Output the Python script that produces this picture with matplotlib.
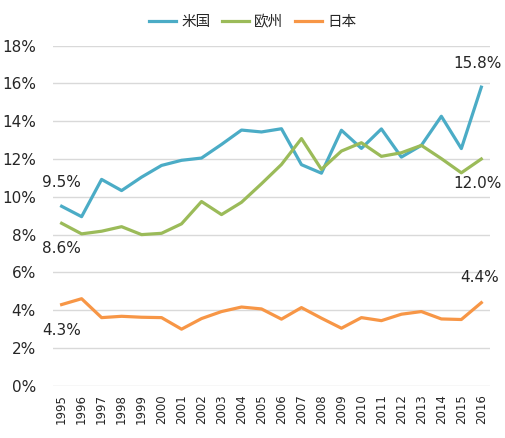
import matplotlib
matplotlib.use("Agg")
import matplotlib.pyplot as plt

plt.rcParams['font.family'] = ['DejaVu Sans', 'Noto Sans CJK SC']

years = [str(y) for y in range(1995, 2017)]
us = [9.5, 8.95, 10.92, 10.33, 11.04, 11.66, 11.93, 12.05, 12.77, 13.53, 13.43,
      13.6, 11.7, 11.25, 13.52, 12.56, 13.59, 12.1, 12.72, 14.26, 12.55, 15.8]
eu = [8.6, 8.04, 8.18, 8.42, 8.0, 8.07, 8.57, 9.75, 9.06, 9.71, 10.69,
      11.71, 13.08, 11.45, 12.42, 12.86, 12.14, 12.33, 12.72, 12.02, 11.27, 12.0]
jp = [4.3, 4.61, 3.61, 3.68, 3.63, 3.61, 3.0, 3.56, 3.93, 4.17, 4.07,
      3.53, 4.14, 3.58, 3.05, 3.61, 3.45, 3.79, 3.93, 3.54, 3.51, 4.4]
series_names = ['米国', '欧州', '日本']
colors = ['#4BACC6', '#9BBB59', '#F79646']
yticks = [0, 2, 4, 6, 8, 10, 12, 14, 16, 18]

fig = plt.figure(figsize=(5.06, 4.38), dpi=100)
ax = fig.add_axes([0.104, 0.119, 0.865, 0.777])

x = list(range(len(years)))
for vals, name, c in zip([us, eu, jp], series_names, colors):
    ax.plot(x, vals, color=c, lw=2.3, label=name, solid_joinstyle='round')

ax.set_xlim(-0.45, len(years) - 1 + 0.45)
ax.set_ylim(0, 18)
ax.set_yticks(yticks)
ax.set_yticklabels([f"{v}%" for v in yticks])
ax.set_xticks(x)
ax.set_xticklabels(years, rotation=90)
ax.tick_params(axis='y', length=0, pad=12, labelsize=11, labelcolor='#262626')
ax.tick_params(axis='x', length=0, pad=6, labelsize=8.5, labelcolor='#262626')
ax.grid(axis='y', color='#D9D9D9', lw=1)
ax.set_axisbelow(True)
for s in ax.spines.values():
    s.set_visible(False)

txt = dict(textcoords='offset points', ha='center', va='center',
           fontsize=11, color='#262626')
ax.annotate(f"{us[0]:.1f}%", (0, us[0]), xytext=(0, 17), **txt)
ax.annotate(f"{eu[0]:.1f}%", (0, eu[0]), xytext=(0, -18), **txt)
ax.annotate(f"{jp[0]:.1f}%", (0, jp[0]), xytext=(0, -19), **txt)
n = len(years) - 1
ax.annotate(f"{us[-1]:.1f}%", (n, us[-1]), xytext=(-3, 17), **txt)
ax.annotate(f"{eu[-1]:.1f}%", (n, eu[-1]), xytext=(-3, -18), **txt)
ax.annotate(f"{jp[-1]:.1f}%", (n, jp[-1]), xytext=(-1, 18), **txt)

leg = fig.legend(loc='center', bbox_to_anchor=(0.5, 0.95), ncol=3, frameon=False,
                 prop={'family': ['Noto Sans CJK SC', 'DejaVu Sans'], 'size': 10.5},
                 handlelength=1.8, handletextpad=0.4, columnspacing=0.8)
for t in leg.get_texts():
    t.set_color('#262626')

fig.savefig('out.png', dpi=100)
